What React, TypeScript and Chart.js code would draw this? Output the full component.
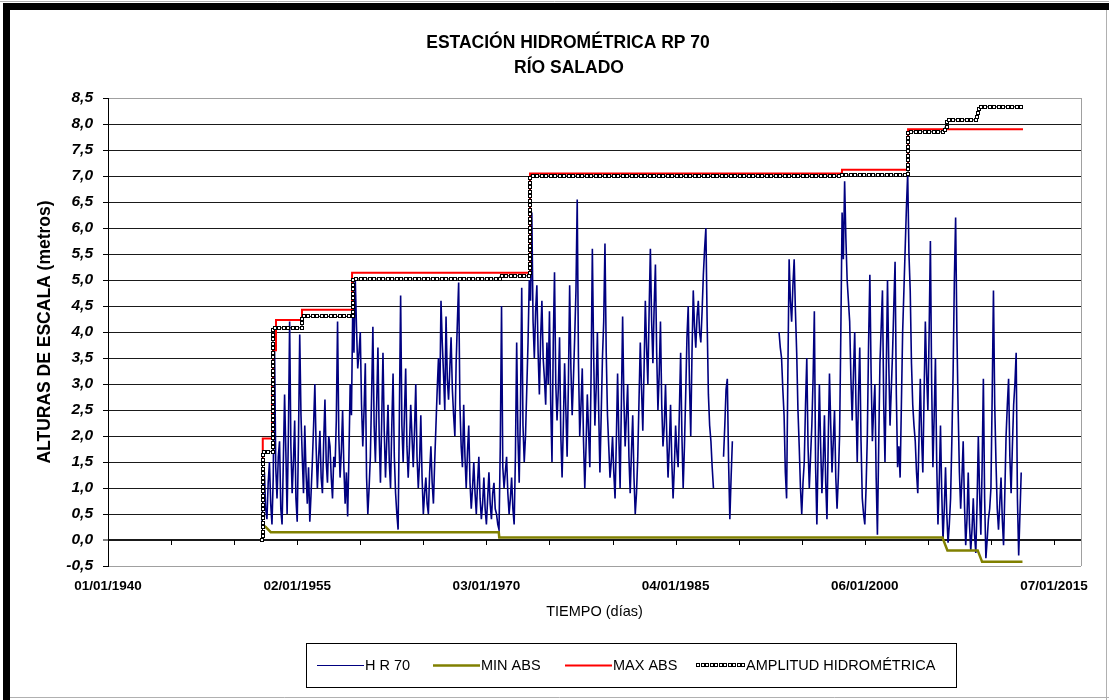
import React, { useEffect, useRef } from 'react';
import { Chart, registerables } from 'chart.js';

Chart.register(...registerables);

const FONT = "'Liberation Sans', Arial, Helvetica, sans-serif";

const TITLE_LINES = ['ESTACIÓN HIDROMÉTRICA RP 70', 'RÍO SALADO'];
const Y_TITLE = 'ALTURAS DE ESCALA (metros)';
const X_TITLE = 'TIEMPO (días)';
const SERIES_NAMES = ['H R 70', 'MIN ABS', 'MAX ABS', 'AMPLITUD HIDROMÉTRICA'];
const SERIES_COLORS = ['#000080', '#808000', '#ff0000', '#000000'];

const X_MIN = 1940;
const X_MAX = 2017.14;
const X_TICK_YEARS = [1940, 1945, 1950, 1955, 1960, 1965, 1970, 1975, 1980, 1985, 1990, 1995, 2000, 2005, 2010, 2015];
const X_TICK_LABELS: Record<number, string> = {
  1940: '01/01/1940',
  1955: '02/01/1955',
  1970: '03/01/1970',
  1985: '04/01/1985',
  2000: '06/01/2000',
  2015: '07/01/2015',
};
const Y_MIN = -0.5;
const Y_MAX = 8.5;
const Y_STEP = 0.5;

// H R 70 : levels sampled every 0.1 year (about 36 days)
const HR_STEP = 0.1;
const hr70Seg1Start = 1952.2;
const hr70Seg1 = [
  // 1952.2 - 1955.0
  0.25, 0.9, 1.3, 0.6, 0.4, 1.1, 1.5, 0.7, 0.3, 1.2, 3.8, 1.4, 0.8, 1.6, 1.9, 0.6, 0.3, 1.5, 2.8, 1.7, 0.5, 2.0, 4.2, 1.8, 0.9, 1.5, 2.3, 0.8, 0.35,
  // 1955.1 - 1960.0
  1.9, 3.95, 2.4, 1.6, 0.9, 2.2, 1.3, 0.7, 1.4, 0.35, 0.9, 1.5, 2.2, 3.0, 1.8, 1.0, 1.6, 2.1, 1.2, 0.9, 1.9, 2.7, 1.5, 1.1, 2.0,
  1.8, 1.2, 0.8, 1.6, 1.4, 2.3, 4.2, 2.0, 1.2, 1.7, 2.5, 1.4, 0.7, 1.3, 0.45, 1.6, 3.0, 2.4, 4.4, 3.6, 5.05, 4.1, 3.3, 3.6, 4.0,
  // 1960.1 - 1965.0
  2.6, 1.8, 2.5, 3.4, 1.2, 0.5, 1.0, 1.6, 2.8, 4.1, 2.2, 1.5, 2.6, 3.7, 2.0, 1.1, 2.3, 3.6, 2.1, 1.2, 1.9, 2.6, 1.5, 1.0, 2.2,
  3.2, 1.6, 0.9, 0.5, 0.2, 2.4, 4.7, 2.2, 1.5, 2.4, 3.3, 1.8, 1.2, 1.8, 2.6, 2.0, 1.4, 2.1, 3.0, 1.6, 1.0, 1.5, 2.4, 1.2, 0.5,
  // 1965.1 - 1970.0
  0.9, 1.2, 0.7, 0.5, 1.3, 1.8, 1.1, 0.7, 1.5, 2.2, 2.9, 3.5, 2.6, 4.6, 3.8, 3.2, 2.5, 4.3, 3.1, 2.7, 3.3, 3.9, 2.9, 2.4, 2.0,
  3.4, 4.2, 4.95, 2.6, 1.8, 1.4, 2.6, 1.6, 1.0, 1.7, 2.2, 1.1, 0.6, 1.0, 1.5, 0.9, 0.5, 1.1, 1.6, 0.8, 0.4, 0.7, 1.2, 0.6, 0.3,
  // 1970.1 - 1975.0
  0.8, 1.3, 0.7, 0.4, 0.9, 1.1, 0.6, 0.5, 0.3, 0.2, 1.8, 4.5, 1.4, 1.0, 1.3, 1.6, 0.9, 0.5, 0.8, 1.2, 0.6, 0.3, 1.6, 3.8, 2.0,
  1.1, 2.5, 4.85, 2.2, 1.5, 2.0, 2.9, 3.8, 5.0, 4.6, 6.3, 4.2, 3.5, 4.4, 4.9, 3.6, 2.8, 3.9, 4.6, 3.5, 3.1, 2.6, 3.8, 3.0, 4.4,
  // 1975.1 - 1980.0
  2.6, 1.5, 3.8, 5.15, 3.0, 2.3, 2.9, 3.9, 2.0, 1.2, 2.2, 3.4, 2.5, 1.6, 3.0, 4.9, 3.3, 2.4, 3.1, 3.9, 4.8, 6.55, 3.4, 2.0, 2.6,
  3.3, 1.9, 1.0, 1.8, 2.8, 2.1, 1.4, 3.2, 5.6, 3.6, 2.2, 2.9, 4.0, 2.5, 1.3, 2.4, 3.5, 4.2, 5.7, 3.6, 2.4, 1.8, 1.2, 1.5, 2.0,
  // 1980.1 - 1985.0
  1.3, 0.8, 1.9, 3.2, 2.0, 1.0, 2.6, 4.3, 2.7, 1.8, 2.4, 3.0, 1.6, 0.9, 1.7, 2.4, 1.2, 0.5, 0.9, 1.6, 2.7, 3.8, 2.9, 2.1, 3.3,
  4.6, 3.7, 3.0, 4.4, 5.6, 4.2, 3.4, 4.5, 5.3, 3.6, 2.5, 3.2, 4.2, 2.6, 1.8, 2.2, 3.0, 2.0, 1.2, 1.8, 2.6, 1.5, 0.8, 1.4, 2.2,
  // 1985.1 - 1988.0
  1.7, 1.4, 2.5, 3.6, 2.0, 1.0, 1.8, 2.8, 3.9, 4.5, 3.0, 2.0, 3.6, 4.8, 4.1, 3.7, 4.3, 4.6, 4.0, 3.8, 4.4, 5.1, 5.6, 6.0, 4.2,
  2.8, 2.2, 1.9, 1.4, 1.0,
];
const hr70Seg2Start = 1988.8;
const hr70Seg2 = [1.6, 2.2, 2.9, 3.1, 1.5, 0.4, 1.2, 1.9];
const hr70Seg3Start = 1993.2;
const hr70Seg3 = [
  // 1993.2 - 1995.0
  4.0, 3.7, 3.5, 2.9, 2.4, 1.3, 0.8, 3.2, 5.4, 4.6, 4.2, 4.9, 5.4, 4.4, 3.6, 2.5, 1.8, 1.0, 0.5,
  // 1995.1 - 2000.0
  1.1, 1.5, 2.6, 3.5, 1.8, 1.0, 1.6, 2.2, 3.1, 4.4, 1.4, 0.3, 1.7, 3.0, 1.8, 0.9, 1.5, 2.4, 1.1, 0.4, 1.9, 3.2, 2.2, 1.3, 1.9,
  2.5, 1.2, 0.6, 1.2, 2.0, 4.0, 6.3, 5.4, 6.9, 5.8, 5.0, 4.6, 4.2, 3.1, 2.3, 3.2, 4.0, 2.6, 1.5, 2.8, 3.7, 1.9, 0.8, 0.5, 0.3,
  // 2000.1 - 2005.0
  1.0, 2.0, 3.8, 5.1, 3.2, 1.9, 2.5, 3.0, 1.2, 0.1, 1.8, 3.4, 4.1, 4.8, 2.6, 1.5, 3.2, 5.0, 3.4, 2.2, 2.9, 3.6, 4.5, 5.35, 2.8,
  1.4, 1.8, 1.2, 2.6, 4.0, 4.8, 5.6, 6.4, 7.05, 5.5, 4.8, 3.4, 2.6, 2.2, 1.9, 1.3, 0.9, 2.0, 3.1, 2.0, 1.3, 2.8, 4.2, 3.2, 2.5,
  // 2005.1 - 2010.0
  4.0, 5.75, 3.0, 1.4, 2.4, 3.5, 1.5, 0.3, 1.1, 2.2, 0.9, 0.0, 0.6, 1.4, 0.5, -0.05, 0.3, 0.8, 1.9, 3.2, 5.0, 6.2, 4.0, 2.5, 1.3,
  0.6, 1.2, 1.9, 0.7, -0.1, 0.4, 1.3, 0.3, -0.2, 0.2, 0.8, 0.1, -0.25, 0.7, 2.0, 0.9, 0.1, 1.4, 3.1, 0.8, -0.35, 0.0, 0.4, 0.6, 1.0,
  // 2010.1 - 2012.4
  2.8, 4.8, 2.6, 1.5, 0.6, 0.2, 0.7, 1.2, 0.4, -0.1, 0.9, 2.0, 2.6, 3.1, 1.6, 0.9, 1.8, 2.6, 3.0, 3.6, 0.8, -0.3, 0.5, 1.3,
];

const minAbsYears = [1952.21, 1952.5, 1952.9, 1970.98, 1971.02, 2006.15, 2006.55, 2008.95, 2009.3, 2012.5];
const minAbsValues = [0.3, 0.25, 0.15, 0.15, 0.05, 0.05, -0.2, -0.2, -0.42, -0.42];

const maxAbsYears = [1952.21, 1952.27, 1953.0, 1953.08, 1953.32, 1955.38, 1959.35, 1973.46, 1998.19, 2003.43, 2012.54];
const maxAbsValues = [1.5, 1.95, 3.0, 3.65, 4.23, 4.43, 5.14, 7.05, 7.12, 7.9, 7.9];

const amplitudYears = [1952.21, 1952.25, 1953.08, 1955.38, 1959.45, 1971.08, 1973.46, 1998.19, 2003.43, 2006.36, 2006.5, 2006.62, 2008.9, 2009.0, 2009.1, 2012.54];
const amplitudValues = [0.0, 1.7, 4.08, 4.3, 5.02, 5.08, 7.0, 7.02, 7.85, 7.95, 8.05, 8.08, 8.18, 8.28, 8.33, 8.33];

function segmentPoints(start: number, values: number[]) {
  return values.map((v, i) => ({ x: Math.round((start + i * HR_STEP) * 1000) / 1000, y: v }));
}

function buildHr70() {
  const s1 = segmentPoints(hr70Seg1Start, hr70Seg1);
  const s2 = segmentPoints(hr70Seg2Start, hr70Seg2);
  const s3 = segmentPoints(hr70Seg3Start, hr70Seg3);
  return [
    ...s1,
    { x: (s1[s1.length - 1].x + s2[0].x) / 2, y: null },
    ...s2,
    { x: (s2[s2.length - 1].x + s3[0].x) / 2, y: null },
    ...s3,
  ];
}

function pairs(xs: number[], ys: number[]) {
  return xs.map((x, i) => ({ x, y: ys[i] }));
}

function drawMarkerChain(ctx: CanvasRenderingContext2D, path: { x: number; y: number }[], spacing: number) {
  const marks: { x: number; y: number }[] = [];
  let carry = 0;
  for (let i = 1; i < path.length; i++) {
    const a = path[i - 1];
    const b = path[i];
    const len = Math.hypot(b.x - a.x, b.y - a.y);
    if (len === 0) continue;
    let d = carry;
    while (d <= len) {
      marks.push({ x: a.x + ((b.x - a.x) * d) / len, y: a.y + ((b.y - a.y) * d) / len });
      d += spacing;
    }
    carry = d - len;
  }
  ctx.save();
  ctx.lineWidth = 1;
  ctx.strokeStyle = '#000';
  ctx.fillStyle = '#fff';
  for (const m of marks) {
    const rx = Math.round(m.x);
    const ry = Math.round(m.y);
    ctx.fillRect(rx - 1.5, ry - 1.5, 3, 3);
    ctx.strokeRect(rx - 1.5, ry - 1.5, 3, 3);
  }
  ctx.restore();
}

const framePlugin = {
  id: 'frame',
  beforeDraw(chart: any) {
    const { ctx, width, height } = chart;
    ctx.save();
    ctx.fillStyle = '#fff';
    ctx.fillRect(0, 0, width, height);
    ctx.fillStyle = '#000';
    ctx.fillRect(3, 3, width - 3, 7);
    ctx.fillRect(3, 3, 7, height - 3);
    ctx.strokeStyle = '#b0b0b0';
    ctx.lineWidth = 1;
    ctx.beginPath();
    ctx.moveTo(0, 1.5);
    ctx.lineTo(width, 1.5);
    ctx.moveTo(width - 2.5, 10);
    ctx.lineTo(width - 2.5, height);
    ctx.moveTo(10, height - 2.5);
    ctx.lineTo(width, height - 2.5);
    ctx.stroke();
    ctx.restore();
  },
};

const amplitudMarkerPlugin = {
  id: 'amplitudMarkers',
  afterDatasetsDraw(chart: any) {
    const meta = chart.getDatasetMeta(3);
    const pts = meta.data;
    const path: { x: number; y: number }[] = [];
    for (let i = 0; i < pts.length; i++) {
      if (i > 0) path.push({ x: pts[i].x, y: pts[i - 1].y });
      path.push({ x: pts[i].x, y: pts[i].y });
    }
    drawMarkerChain(chart.ctx, path, 4.5);
  },
};

const LEGEND_BOX = { left: 306, top: 643, width: 650, height: 44 };
const LEGEND_ITEM_X = [317, 433, 565, 698];
const LEGEND_LINE_LEN = 47;

const overlayPlugin = {
  id: 'overlay',
  afterDraw(chart: any) {
    const { ctx, chartArea } = chart;
    const xs = chart.scales.x;
    const ys = chart.scales.y;
    ctx.save();
    // right border of plot area
    ctx.strokeStyle = '#a0a0a0';
    ctx.lineWidth = 1;
    ctx.beginPath();
    ctx.moveTo(Math.round(chartArea.right) + 0.5, chartArea.top);
    ctx.lineTo(Math.round(chartArea.right) + 0.5, chartArea.bottom);
    ctx.stroke();
    // x tick marks hanging from the zero line
    const y0 = ys.getPixelForValue(0);
    ctx.strokeStyle = '#000';
    ctx.beginPath();
    for (const t of X_TICK_YEARS) {
      const px = Math.round(xs.getPixelForValue(t)) + 0.5;
      ctx.moveTo(px, y0);
      ctx.lineTo(px, y0 + 5);
    }
    ctx.stroke();

    // title
    ctx.fillStyle = '#000';
    ctx.textAlign = 'center';
    ctx.textBaseline = 'middle';
    ctx.font = `bold 17.5px ${FONT}`;
    ctx.fillText(TITLE_LINES[0], 568, 43);
    ctx.fillText(TITLE_LINES[1], 569, 68);

    // legend
    const { left, top, width, height } = LEGEND_BOX;
    ctx.strokeStyle = '#000';
    ctx.lineWidth = 1;
    ctx.strokeRect(left + 0.5, top + 0.5, width, height);
    const cy = top + height / 2;
    ctx.font = `14.5px ${FONT}`;
    ctx.textAlign = 'left';
    SERIES_NAMES.forEach((name, i) => {
      const x = LEGEND_ITEM_X[i];
      if (i === 3) {
        drawMarkerChain(ctx, [{ x, y: cy }, { x: x + LEGEND_LINE_LEN, y: cy }], 4.5);
      } else {
        ctx.strokeStyle = SERIES_COLORS[i];
        ctx.lineWidth = i === 0 ? 1.2 : i === 1 ? 2.5 : 2;
        ctx.beginPath();
        ctx.moveTo(x, Math.round(cy) + 0.5);
        ctx.lineTo(x + LEGEND_LINE_LEN, Math.round(cy) + 0.5);
        ctx.stroke();
      }
      ctx.fillStyle = '#000';
      ctx.fillText(name, x + LEGEND_LINE_LEN + 1, cy + 1);
    });
    ctx.restore();
  },
};

export default function App() {
  const canvasRef = useRef<HTMLCanvasElement | null>(null);

  useEffect(() => {
    const canvas = canvasRef.current;
    if (!canvas) return;
    const chart = new Chart(canvas, {
      type: 'line',
      data: {
        datasets: [
          {
            label: SERIES_NAMES[0],
            data: buildHr70() as any,
            borderColor: SERIES_COLORS[0],
            borderWidth: 1.6,
            pointRadius: 0,
            spanGaps: false,
            tension: 0,
            order: 3,
          },
          {
            label: SERIES_NAMES[1],
            data: pairs(minAbsYears, minAbsValues),
            borderColor: SERIES_COLORS[1],
            borderWidth: 2.5,
            pointRadius: 0,
            order: 2,
          },
          {
            label: SERIES_NAMES[2],
            data: pairs(maxAbsYears, maxAbsValues),
            borderColor: SERIES_COLORS[2],
            borderWidth: 2,
            pointRadius: 0,
            stepped: 'before',
            order: 1,
          },
          {
            label: SERIES_NAMES[3],
            data: pairs(amplitudYears, amplitudValues),
            borderColor: SERIES_COLORS[3],
            borderWidth: 1,
            pointRadius: 0,
            stepped: 'before',
            order: 0,
          },
        ],
      },
      options: {
        responsive: false,
        animation: false,
        events: [],
        layout: { padding: { left: 0, right: 28, top: 98, bottom: 79 } },
        plugins: {
          legend: { display: false },
          title: { display: false },
          tooltip: { enabled: false },
        },
        scales: {
          x: {
            type: 'linear',
            min: X_MIN,
            max: X_MAX,
            afterBuildTicks: (scale: any) => {
              scale.ticks = X_TICK_YEARS.map((v) => ({ value: v }));
            },
            afterFit: (scale: any) => {
              scale.height = 55;
            },
            grid: { display: false, drawTicks: false },
            border: { display: false },
            ticks: {
              autoSkip: false,
              maxRotation: 0,
              minRotation: 0,
              padding: 12,
              color: '#000',
              font: { family: FONT, size: 13.5, weight: 'bold' },
              callback: (v: any) => X_TICK_LABELS[Math.round(Number(v))] ?? '',
            },
            title: {
              display: true,
              text: X_TITLE,
              color: '#000',
              font: { family: FONT, size: 14.5 },
              padding: { top: 0, bottom: 0 },
            },
          },
          y: {
            type: 'linear',
            min: Y_MIN,
            max: Y_MAX,
            afterFit: (scale: any) => {
              scale.width = 108;
            },
            ticks: {
              stepSize: Y_STEP,
              padding: 10,
              color: '#000',
              font: { family: FONT, size: 15.5, weight: 'bold', style: 'italic' },
              callback: (v: any) => Number(v).toFixed(1).replace('.', ','),
            },
            grid: {
              color: (c: any) => {
                const v = c.tick ? c.tick.value : 0;
                return v === Y_MIN || v === Y_MAX ? '#a0a0a0' : '#1a1a1a';
              },
              lineWidth: (c: any) => (c.tick && c.tick.value === 0 ? 2 : 1),
              tickLength: 5,
              tickColor: '#000',
              tickWidth: 1,
              drawTicks: true,
            },
            border: { display: true, color: '#000', width: 1 },
            title: {
              display: true,
              text: Y_TITLE,
              color: '#000',
              font: { family: FONT, size: 17.5, weight: 'bold' },
              padding: { top: 35, bottom: 0 },
            },
          },
        },
      },
      plugins: [framePlugin, amplitudMarkerPlugin, overlayPlugin],
    });
    return () => chart.destroy();
  }, []);

  return (
    <div style={{ position: 'absolute', left: 0, top: 0, width: 1109, height: 700, background: '#fff' }}>
      <canvas ref={canvasRef} width={1109} height={700} style={{ display: 'block', width: 1109, height: 700 }} />
    </div>
  );
}
